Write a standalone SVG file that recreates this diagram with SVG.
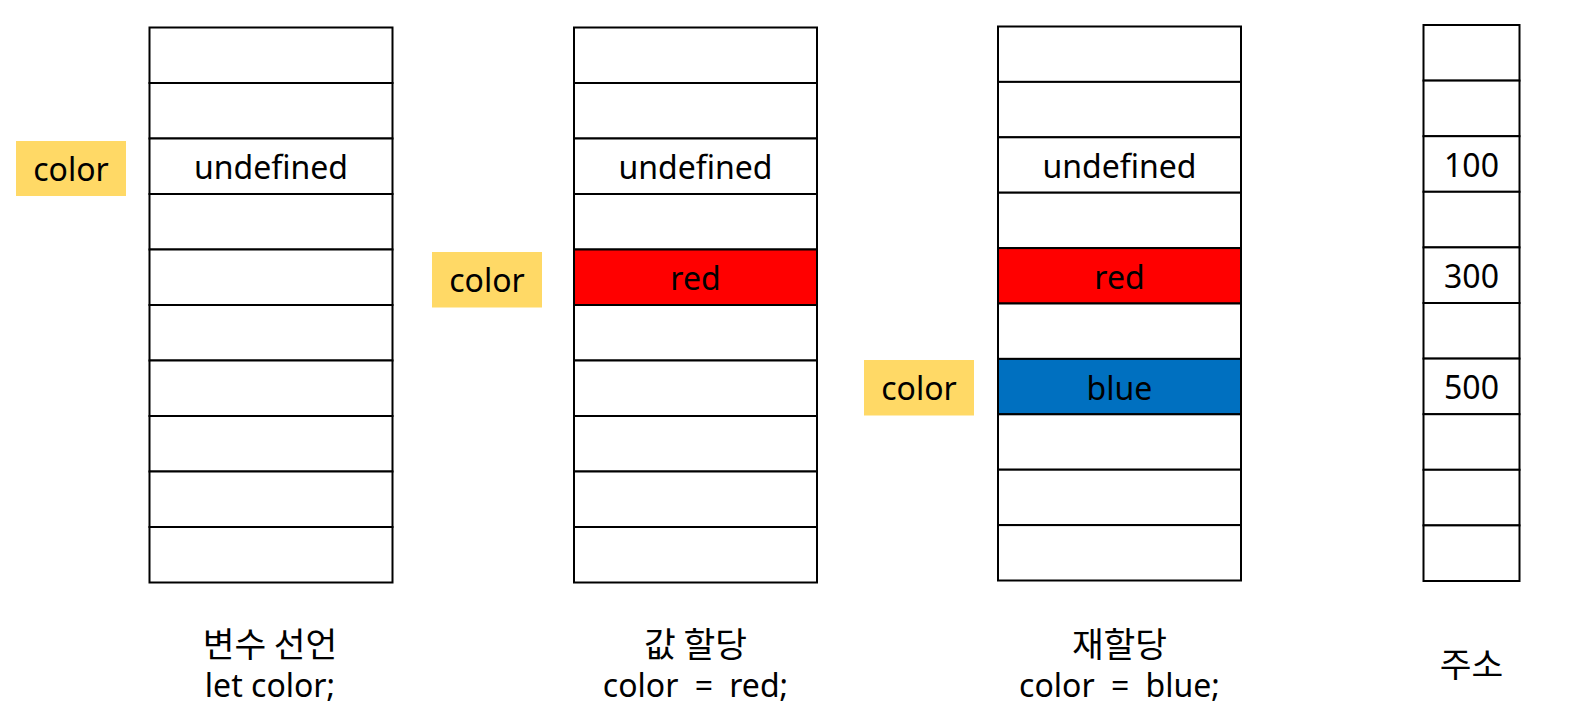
<svg xmlns="http://www.w3.org/2000/svg" width="1581" height="717" viewBox="0 0 1581 717">
<style>
.cell{fill:#ffffff;stroke:#000000;stroke-width:2}
.red{fill:#FF0000}
.blue{fill:#0070C0}
.tag{fill:#FFD966}
.t{font-family:"Noto Sans","Noto Sans CJK KR",sans-serif;font-size:32px;fill:#000000;text-anchor:middle}
.k{font-family:"Noto Sans CJK KR","Noto Sans",sans-serif;font-size:34.5px;fill:#000000;text-anchor:middle}
.ws{word-spacing:8px}
</style>
<rect width="1581" height="717" fill="#ffffff"/>

<g id="col1">
<rect class="cell" x="149.5" y="27.5" width="243" height="55.5"/>
<rect class="cell" x="149.5" y="83" width="243" height="55.5"/>
<rect class="cell" x="149.5" y="138.5" width="243" height="55.5"/>
<rect class="cell" x="149.5" y="194" width="243" height="55.5"/>
<rect class="cell" x="149.5" y="249.5" width="243" height="55.5"/>
<rect class="cell" x="149.5" y="305" width="243" height="55.5"/>
<rect class="cell" x="149.5" y="360.5" width="243" height="55.5"/>
<rect class="cell" x="149.5" y="416" width="243" height="55.5"/>
<rect class="cell" x="149.5" y="471.5" width="243" height="55.5"/>
<rect class="cell" x="149.5" y="527" width="243" height="55.5"/>
<text class="t" x="271" y="178.5">undefined</text>
</g>

<g id="tag1">
<rect class="tag" x="16" y="141" width="110" height="55"/>
<text class="t" x="71" y="181">color</text>
</g>

<g id="col2">
<rect class="cell" x="574" y="27.5" width="243" height="55.5"/>
<rect class="cell" x="574" y="83" width="243" height="55.5"/>
<rect class="cell" x="574" y="138.5" width="243" height="55.5"/>
<rect class="cell" x="574" y="194" width="243" height="55.5"/>
<rect class="cell red" x="574" y="249.5" width="243" height="55.5"/>
<rect class="cell" x="574" y="305" width="243" height="55.5"/>
<rect class="cell" x="574" y="360.5" width="243" height="55.5"/>
<rect class="cell" x="574" y="416" width="243" height="55.5"/>
<rect class="cell" x="574" y="471.5" width="243" height="55.5"/>
<rect class="cell" x="574" y="527" width="243" height="55.5"/>
<text class="t" x="695.5" y="178.5">undefined</text>
<text class="t" x="695.5" y="290">red</text>
</g>

<g id="tag2">
<rect class="tag" x="432" y="252" width="110" height="55.5"/>
<text class="t" x="487" y="292">color</text>
</g>

<g id="col3">
<rect class="cell" x="998" y="26.5" width="243" height="55.4"/>
<rect class="cell" x="998" y="81.9" width="243" height="55.4"/>
<rect class="cell" x="998" y="137.3" width="243" height="55.4"/>
<rect class="cell" x="998" y="192.7" width="243" height="55.4"/>
<rect class="cell red" x="998" y="248.1" width="243" height="55.4"/>
<rect class="cell" x="998" y="303.5" width="243" height="55.4"/>
<rect class="cell blue" x="998" y="358.9" width="243" height="55.4"/>
<rect class="cell" x="998" y="414.3" width="243" height="55.4"/>
<rect class="cell" x="998" y="469.7" width="243" height="55.4"/>
<rect class="cell" x="998" y="525.1" width="243" height="55.4"/>
<text class="t" x="1119.5" y="177.5">undefined</text>
<text class="t" x="1119.5" y="288.5">red</text>
<text class="t" x="1119.5" y="399.5">blue</text>
</g>

<g id="tag3">
<rect class="tag" x="864" y="360" width="110" height="55.5"/>
<text class="t" x="919" y="400">color</text>
</g>

<g id="col4">
<rect class="cell" x="1423.5" y="25" width="96" height="55.6"/>
<rect class="cell" x="1423.5" y="80.6" width="96" height="55.6"/>
<rect class="cell" x="1423.5" y="136.2" width="96" height="55.6"/>
<rect class="cell" x="1423.5" y="191.8" width="96" height="55.6"/>
<rect class="cell" x="1423.5" y="247.4" width="96" height="55.6"/>
<rect class="cell" x="1423.5" y="303" width="96" height="55.6"/>
<rect class="cell" x="1423.5" y="358.6" width="96" height="55.6"/>
<rect class="cell" x="1423.5" y="414.2" width="96" height="55.6"/>
<rect class="cell" x="1423.5" y="469.8" width="96" height="55.6"/>
<rect class="cell" x="1423.5" y="525.4" width="96" height="55.6"/>
<text class="t" x="1471.5" y="176.5">100</text>
<text class="t" x="1471.5" y="287.5">300</text>
<text class="t" x="1471.5" y="398.5">500</text>
</g>

<g id="labels">
<text class="k" x="270" y="657">변수 선언</text>
<text class="t" x="270" y="697">let color;</text>
<text class="k" x="695.5" y="657">값 할당</text>
<text class="t ws" x="695.5" y="697">color = red;</text>
<text class="k" x="1119.5" y="657">재할당</text>
<text class="t ws" x="1119.5" y="697">color = blue;</text>
<text class="k" x="1471.5" y="677">주소</text>
</g>

<g id="connectors"></g>
</svg>
